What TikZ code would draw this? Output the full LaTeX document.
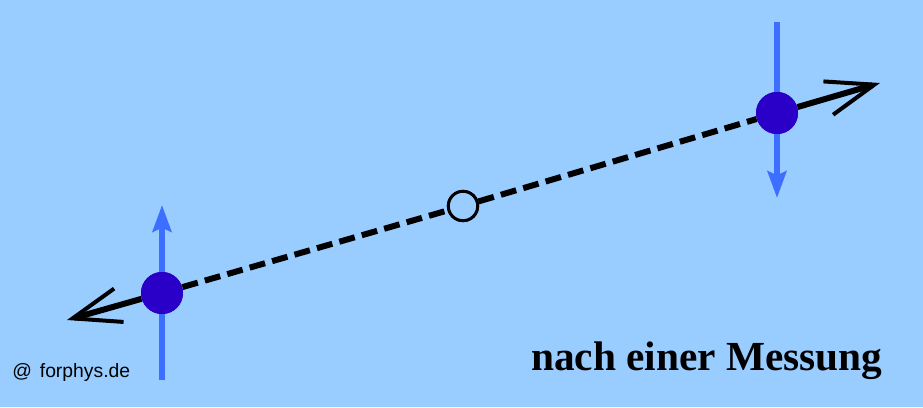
\documentclass[tikz,border=0pt]{standalone}
\usepackage{fontspec}
\setmainfont{Liberation Serif}
\newfontfamily\sitefont{Liberation Sans}
\usetikzlibrary{arrows.meta}
\definecolor{bgblue}{HTML}{99CCFF}
\definecolor{spinblue}{HTML}{3C6EFF}
\definecolor{particle}{HTML}{2A00C8}

\begin{document}
\begin{tikzpicture}[x=0.75pt, y=-0.75pt,
    spin/.style={spinblue, line width=5pt, -{Stealth[length=20pt, width=14pt, inset=3pt]}},
    axis/.style={black, line width=4.5pt},
    barb/.style={-{Straight Barb[length=36pt, width=26pt, line width=3pt]}},
    body/.style={circle, fill=particle, minimum size=31.5pt, inner sep=0pt},
    source/.style={circle, draw=black, line width=2.2pt, fill=bgblue, minimum size=22pt, inner sep=0pt}]
    % background
    \fill[bgblue] (0,0) rectangle (923,407);
    \useasboundingbox (0,0) rectangle (923,407);

    % Axes
    \coordinate (tipL) at (67,320);
    \coordinate (tipR) at (880,83);
    \coordinate (upL) at (162,205);
    \coordinate (footL) at (162,380);
    \coordinate (topR) at (777,22);
    \coordinate (downR) at (777,198);

    % spins
    \draw[spin] (footL) -- (upL);
    \draw[spin] (topR) -- (downR);

    % bodies
    \node[source] (c) at (463,206) {};
    \node[body] (pL) at (162,293) {};
    \node[body] (pR) at (777,113) {};

    % line of flight
    \draw[axis, dash pattern=on 12pt off 5.5pt] (pL) -- (c) -- (pR);
    \draw[axis, barb] (pL) -- (tipL);
    \draw[axis, barb] (pR) -- (tipR);
    \node[source] at (c) {};
    \node[body] at (pL) {};
    \node[body] at (pR) {};

    % Labels
    \node[anchor=base west, inner sep=0pt, font=\bfseries\fontsize{31}{31}\selectfont] (title) at (531,370) {nach einer Messung};
    \node[anchor=base west, inner sep=0pt, font=\sitefont\fontsize{14.5}{14.5}\selectfont] (site) at (12,377) {@\hspace{6pt}forphys.de};
\end{tikzpicture}
\end{document}
